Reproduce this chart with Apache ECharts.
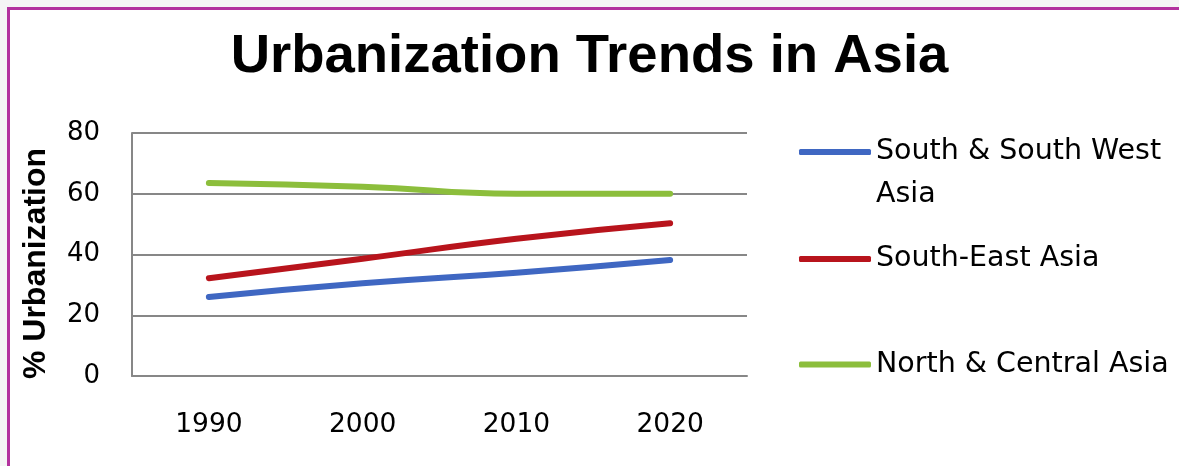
<!DOCTYPE html>
<html>
<head>
<meta charset="utf-8">
<script src="https://cdn.jsdelivr.net/npm/echarts@6/dist/echarts.min.js"></script>
<style>
  html, body { margin: 0; padding: 0; background: #ffffff; }
  #chart { position: absolute; left: 0; top: 0; width: 1179px; height: 466px; background: #ffffff; }
  .strip { position: absolute; pointer-events: none; }
</style>
</head>
<body>
<div id="chart"></div>
<div class="strip" style="left:0;top:0;width:1179px;height:7px;background:#f5f5f5;"></div>
<div class="strip" style="left:0;top:0;width:7px;height:466px;background:#f5f5f5;"></div>
<div class="strip" style="left:7px;top:7px;width:1172px;height:3px;background:#b3329e;"></div>
<div class="strip" style="left:7px;top:7px;width:3px;height:459px;background:#b3329e;"></div>
<script>
const years = ['1990', '2000', '2010', '2020'];
const seriesNames = ['South & South West Asia', 'South-East Asia', 'North & Central Asia'];
const southWest = [26, 30.5, 34, 38.2];
const southEast = [32.2, 38.6, 45.2, 50.3];
const northCentral = [63.5, 62.3, 60, 60];
const yTicks = [0, 20, 40, 60, 80];

const colors = ['#3f67c2', '#b8141c', '#8cbe3c'];
const values = [southWest, southEast, northCentral];

const chart = echarts.init(document.getElementById('chart'), null, { renderer: 'canvas' });

const legendText = { fontFamily: 'DejaVu Sans', fontSize: 28.5, color: '#000000', lineHeight: 43 };

const option = {
  backgroundColor: '#ffffff',
  animation: false,
  title: {
    text: 'Urbanization Trends in Asia',
    left: 'center',
    top: 24,
    textStyle: { fontFamily: 'Liberation Sans', fontWeight: 'bold', fontSize: 54.5, color: '#000000' }
  },
  legend: [
    {
      data: [seriesNames[0]], left: 799, top: 87.5, orient: 'vertical', padding: 0,
      icon: 'roundRect', itemWidth: 72, itemHeight: 6,
      formatter: () => '\u00a0\nSouth & South West\nAsia',
      textStyle: legendText
    },
    {
      data: [seriesNames[1]], left: 799, top: 237.5, orient: 'vertical', padding: 0,
      icon: 'roundRect', itemWidth: 72, itemHeight: 6,
      textStyle: legendText
    },
    {
      data: [seriesNames[2]], left: 799, top: 343, orient: 'vertical', padding: 0,
      icon: 'roundRect', itemWidth: 72, itemHeight: 6,
      textStyle: legendText
    }
  ],
  grid: { left: 132, right: 432, top: 133, bottom: 90, containLabel: false },
  xAxis: {
    type: 'category',
    data: years,
    boundaryGap: true,
    axisLine: { show: true, lineStyle: { color: '#878787', width: 2 } },
    axisTick: { show: false },
    axisLabel: { margin: 36, fontFamily: 'DejaVu Sans', fontSize: 26.5, color: '#000000' },
    splitLine: { show: false }
  },
  yAxis: {
    type: 'value',
    min: yTicks[0],
    max: yTicks[yTicks.length - 1],
    interval: 20,
    name: '% Urbanization',
    nameLocation: 'middle',
    nameGap: 80,
    nameTextStyle: { fontFamily: 'Liberation Sans', fontWeight: 'bold', fontSize: 32, color: '#000000', padding: [0, 18, 0, 0] },
    axisLine: { show: true, lineStyle: { color: '#878787', width: 2 } },
    axisTick: { show: false },
    axisLabel: { margin: 32, fontFamily: 'DejaVu Sans', fontSize: 26, color: '#000000' },
    splitLine: { show: true, lineStyle: { color: '#878787', width: 2 } }
  },
  series: seriesNames.map((name, i) => ({
    name: name,
    type: 'line',
    data: values[i],
    smooth: true,
    showSymbol: false,
    symbol: 'none',
    color: colors[i],
    lineStyle: { color: colors[i], width: 6, cap: 'round', join: 'round' },
    itemStyle: { color: colors[i] }
  }))
};

chart.setOption(option);
</script>
</body>
</html>
